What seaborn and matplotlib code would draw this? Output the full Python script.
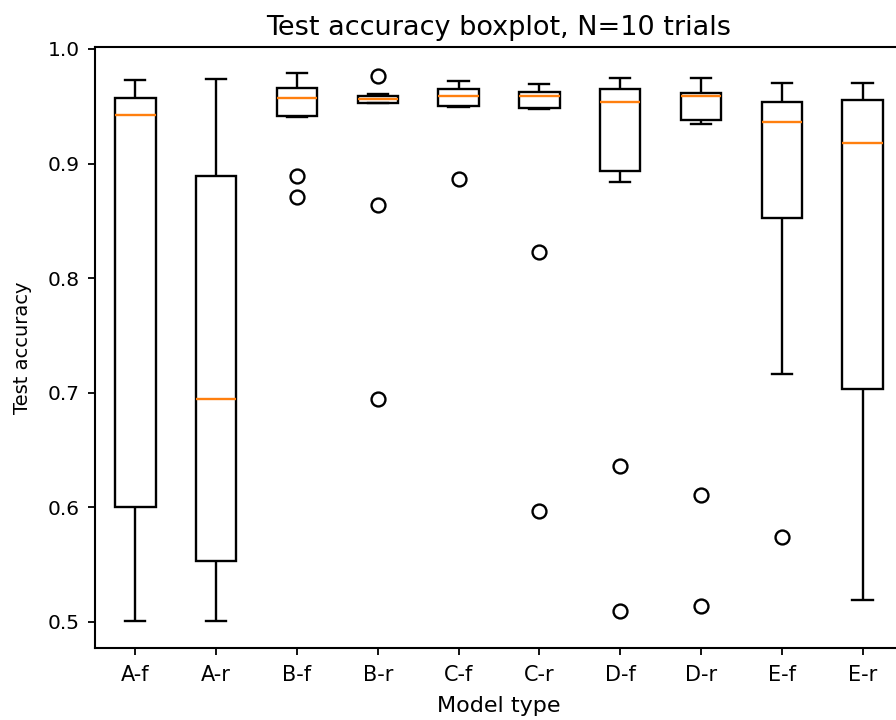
import matplotlib
matplotlib.use("Agg")
import matplotlib.pyplot as plt
import seaborn as sns
import pandas as pd

models = ["A-f", "A-r", "B-f", "B-r", "C-f", "C-r", "D-f", "D-r", "E-f", "E-r"]

acc_A_f = [0.501, 0.534, 0.580, 0.660, 0.938, 0.946, 0.955, 0.958, 0.966, 0.973]
acc_A_r = [0.501, 0.522, 0.545, 0.577, 0.662, 0.728, 0.868, 0.896, 0.930, 0.974]
acc_B_f = [0.8706, 0.8895, 0.9407, 0.9439, 0.9545, 0.9605, 0.9630, 0.9674, 0.9720, 0.9788]
acc_B_r = [0.6946, 0.8639, 0.9525, 0.9553, 0.9556, 0.9566, 0.9585, 0.9592, 0.9605, 0.9764]
acc_C_f = [0.8866, 0.9494, 0.9497, 0.9521, 0.9575, 0.9611, 0.9640, 0.9651, 0.9685, 0.9718]
acc_C_r = [0.5969, 0.8229, 0.9476, 0.9524, 0.9585, 0.9601, 0.9622, 0.9630, 0.9660, 0.9695]
acc_D_f = [0.5099, 0.6364, 0.8837, 0.9229, 0.9490, 0.9580, 0.9630, 0.9654, 0.9700, 0.9747]
acc_D_r = [0.5142, 0.6105, 0.9349, 0.9465, 0.9582, 0.9598, 0.9612, 0.9621, 0.9680, 0.9747]
acc_E_f = [0.5738, 0.7160, 0.8400, 0.8892, 0.9302, 0.9420, 0.9510, 0.9546, 0.9630, 0.9706]
acc_E_r = [0.5196, 0.6400, 0.6900, 0.7440, 0.9100, 0.9256, 0.9530, 0.9558, 0.9620, 0.9706]

series = [acc_A_f, acc_A_r, acc_B_f, acc_B_r, acc_C_f, acc_C_r,
          acc_D_f, acc_D_r, acc_E_f, acc_E_r]

rows = []
for m, vals in zip(models, series):
    for v in vals:
        rows.append({"model": m, "acc": v})
df = pd.DataFrame(rows)

plt.rcParams["font.family"] = ["DejaVu Sans"]

fig = plt.figure(figsize=(8.96, 7.2), dpi=100)
ax = fig.add_axes([0.106, 0.1, 0.9018, 0.8347])

lw = 1.7
sns.boxplot(
    data=df, x="model", y="acc", order=models, ax=ax,
    width=0.5, color="white", linecolor="black", linewidth=lw,
    fliersize=10, whis=1.5,
    medianprops=dict(color="#ff7f0e", linewidth=lw),
    flierprops=dict(marker="o", markerfacecolor="none",
                    markeredgecolor="black", markeredgewidth=lw),
)

ax.set_ylim(0.4773, 1.0017)
ax.set_yticks([0.5, 0.6, 0.7, 0.8, 0.9, 1.0])
ax.set_yticklabels(["0.5", "0.6", "0.7", "0.8", "0.9", "1.0"])
ax.tick_params(axis="x", labelsize=15, length=5, width=1.3, pad=7)
ax.tick_params(axis="y", labelsize=14.5, length=5, width=1.3, pad=6)
for s in ax.spines.values():
    s.set_linewidth(1.5)
ax.set_xlabel("Model type", fontsize=16, labelpad=8)
ax.set_ylabel("Test accuracy", fontsize=14, labelpad=11)
ax.set_title("Test accuracy boxplot, N=10 trials", fontsize=19.5, pad=9)

fig.savefig("out.png", dpi=100)
